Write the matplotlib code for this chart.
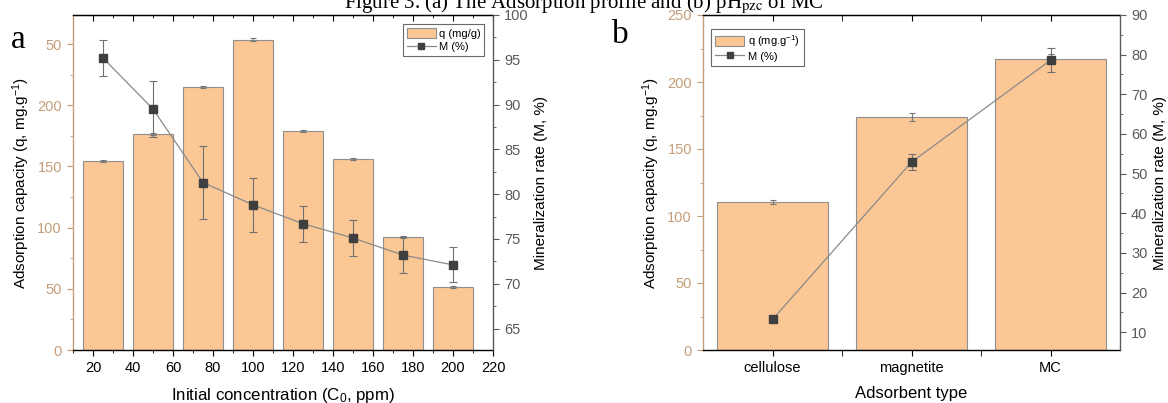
import matplotlib
matplotlib.use("Agg")
import matplotlib.pyplot as plt
from matplotlib.ticker import MultipleLocator, FixedLocator
from matplotlib.lines import Line2D
from matplotlib.patches import Patch

plt.rcParams['font.family'] = ['Liberation Sans', 'DejaVu Sans']
plt.rcParams['mathtext.fontset'] = 'custom'
plt.rcParams['mathtext.rm'] = 'Liberation Sans'
plt.rcParams['mathtext.it'] = 'Liberation Sans:italic'
plt.rcParams['mathtext.bf'] = 'Liberation Sans:bold'

# ---------------- data ----------------
conc = [25, 50, 75, 100, 125, 150, 175, 200]
q_a = [154.6, 176.5, 215.0, 253.5, 179.0, 156.0, 92.4, 51.4]
q_a_err = [0.8, 0.8, 0.8, 1.2, 0.8, 0.6, 1.0, 0.8]
m_a = [95.2, 89.5, 81.3, 78.8, 76.7, 75.1, 73.2, 72.1]
m_a_err = [2.0, 3.1, 4.1, 3.0, 2.0, 2.0, 2.0, 1.95]
left_a_ticks = [0, 50, 100, 150, 200, 250]
left_a_labels = ['0', '50', '100', '150', '200', '50']

adsorbents = ['cellulose', 'magnetite', 'MC']
q_b = [110.1, 174.0, 217.5]
q_b_err = [1.5, 3.2, 3.5]
m_b = [13.2, 52.9, 78.6]
m_b_err = [0.8, 2.0, 3.0]

# ---------------- style ----------------
BAR = '#FBC794'
BAR_EDGE = '#8f8f8f'
TAN = '#C49E7A'
GRAY = '#5a5a5a'
LINE = '#8a8a8a'
MARK = '#3f3f3f'

fig = plt.figure(figsize=(11.68, 4.03), dpi=100)

fig.text(0.5, 1 - 8 / 403, r'Figure 3. (a) The Adsorption profile and (b) pH$_{\mathrm{pzc}}$ of MC',
         ha='center', va='baseline', fontsize=15, family=['Liberation Serif', 'DejaVu Serif'],
         math_fontfamily='stix')


def style_axes(ax, ax2):
    ax.spines['left'].set_color(TAN)
    ax.spines['bottom'].set_color('black')
    ax.spines['top'].set_color('black')
    ax.spines['right'].set_visible(False)
    ax2.spines['right'].set_color(GRAY)
    ax2.spines['left'].set_visible(False)
    ax2.spines['top'].set_visible(False)
    ax2.spines['bottom'].set_visible(False)
    for s in ax.spines.values():
        s.set_linewidth(1.0)
    ax2.spines['right'].set_linewidth(1.0)
    ax.tick_params(axis='y', which='both', colors=TAN, labelsize=10.5, direction='out')
    ax.tick_params(axis='y', which='major', length=4.5)
    ax.tick_params(axis='y', which='minor', length=2.5)
    ax.tick_params(axis='x', which='both', colors='black', labelsize=10.5, direction='out')
    ax.tick_params(axis='x', which='major', length=4.5)
    ax.tick_params(axis='x', which='minor', length=2.5)
    ax2.tick_params(axis='y', which='both', colors=GRAY, labelsize=10.5, direction='out')
    ax2.tick_params(axis='y', which='major', length=4.5)
    ax2.tick_params(axis='y', which='minor', length=2.5)


def legend(ax, labels, loc, anchor):
    handles = [Patch(facecolor=BAR, edgecolor=BAR_EDGE, linewidth=0.8),
               Line2D([0], [0], color=LINE, linewidth=0.9, marker='s', markersize=4.5,
                      markerfacecolor=MARK, markeredgecolor=MARK)]
    leg = ax.legend(handles, labels, loc=loc, bbox_to_anchor=anchor, fontsize=8,
                    frameon=True, fancybox=False, edgecolor='#444444', handlelength=2.6,
                    handleheight=1.1, borderpad=0.35, labelspacing=0.2, handletextpad=0.3,
                    borderaxespad=0.2)
    leg.get_frame().set_linewidth(0.8)
    return leg


# ---------------- panel a ----------------
axa = fig.add_axes([73 / 1168, 1 - 350 / 403, (493 - 73) / 1168, (350 - 15) / 403])
axa.bar(conc, q_a, width=20, color=BAR, edgecolor=BAR_EDGE, linewidth=0.8, zorder=2)
axa.errorbar(conc, q_a, yerr=q_a_err, fmt='none', ecolor='#777777', elinewidth=0.8,
             capsize=2.5, capthick=0.8, zorder=3)
axa.set_xlim(10, 220)
axa.set_ylim(0, 273.8)
axa.xaxis.set_major_locator(MultipleLocator(20))
axa.xaxis.set_minor_locator(MultipleLocator(10))
axa.yaxis.set_major_locator(FixedLocator(left_a_ticks))
axa.set_yticklabels(left_a_labels)
axa.yaxis.set_minor_locator(MultipleLocator(25))
axa.set_xlabel('Initial concentration (C$_0$, ppm)', fontsize=12.2, labelpad=8)
axa.set_ylabel('Adsorption capacity (q, mg.g$^{-1}$)', fontsize=11, color='black')

axa2 = axa.twinx()
axa2.errorbar(conc, m_a, yerr=m_a_err, color=LINE, linewidth=0.9, marker='s', markersize=5.5,
              markerfacecolor=MARK, markeredgecolor=MARK, ecolor='#707070', elinewidth=0.8,
              capsize=3, capthick=0.8, zorder=4)
axa2.set_ylim(62.6, 100)
axa2.yaxis.set_major_locator(MultipleLocator(5))
axa2.yaxis.set_minor_locator(MultipleLocator(2.5))
axa2.set_ylabel('Mineralization rate (M, %)', fontsize=11, color='black')
style_axes(axa, axa2)

topa = axa.secondary_xaxis('top')
topa.xaxis.set_major_locator(MultipleLocator(20))
topa.xaxis.set_minor_locator(MultipleLocator(10))
topa.tick_params(axis='x', which='both', direction='in', labeltop=False)
topa.tick_params(axis='x', which='major', length=4.5)
topa.tick_params(axis='x', which='minor', length=2.5)
topa.spines['top'].set_color('black')

legend(axa2, ['q (mg/g)', 'M (%)'], 'upper right', (0.985, 0.98))

fig.text(18 / 1168, 1 - 40 / 403, 'a', fontsize=24, ha='center', va='center',
         family=['Liberation Serif', 'DejaVu Serif'])

# ---------------- panel b ----------------
axb = fig.add_axes([703 / 1168, 1 - 350 / 403, (1120 - 703) / 1168, (350 - 15) / 403])
xb = list(range(1, len(adsorbents) + 1))
axb.bar(xb, q_b, width=0.8, color=BAR, edgecolor=BAR_EDGE, linewidth=0.8, zorder=2)
axb.errorbar(xb, q_b, yerr=q_b_err, fmt='none', ecolor='#777777', elinewidth=0.8,
             capsize=2.5, capthick=0.8, zorder=3)
axb.set_xlim(0.5, 3.5)
axb.set_ylim(0, 250)
axb.xaxis.set_major_locator(FixedLocator(xb))
axb.set_xticklabels(adsorbents)
axb.xaxis.set_minor_locator(FixedLocator([1.5, 2.5]))
axb.yaxis.set_major_locator(MultipleLocator(50))
axb.yaxis.set_minor_locator(MultipleLocator(25))
axb.set_xlabel('Adsorbent type', fontsize=12, labelpad=8)
axb.set_ylabel('Adsorption capacity (q, mg.g$^{-1}$)', fontsize=11, color='black')

axb2 = axb.twinx()
axb2.errorbar(xb, m_b, yerr=m_b_err, color=LINE, linewidth=0.9, marker='s', markersize=5.5,
              markerfacecolor=MARK, markeredgecolor=MARK, ecolor='#707070', elinewidth=0.8,
              capsize=3, capthick=0.8, zorder=4)
axb2.set_ylim(5.5, 90)
axb2.yaxis.set_major_locator(MultipleLocator(10))
axb2.yaxis.set_minor_locator(MultipleLocator(5))
axb2.set_ylabel('Mineralization rate (M, %)', fontsize=11, color='black')
style_axes(axb, axb2)
axb.tick_params(axis='x', which='minor', length=4.5)

topb = axb.secondary_xaxis('top')
topb.xaxis.set_major_locator(FixedLocator(xb))
topb.xaxis.set_minor_locator(FixedLocator([1.5, 2.5]))
topb.tick_params(axis='x', which='both', direction='in', labeltop=False, length=4.5)
topb.spines['top'].set_color('black')

legend(axb2, ['q (mg.g$^{-1}$)', 'M (%)'], 'upper left', (0.015, 0.965))

fig.text(620 / 1168, 1 - 35 / 403, 'b', fontsize=24, ha='center', va='center',
         family=['Liberation Serif', 'DejaVu Serif'])

fig.savefig('out.png', dpi=100)
